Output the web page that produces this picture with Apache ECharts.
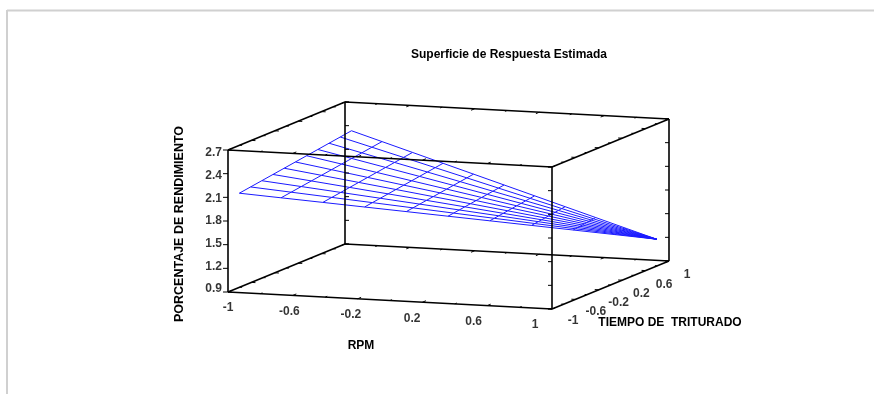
<!DOCTYPE html>
<html>
<head>
<meta charset="utf-8">
<script src="https://cdn.jsdelivr.net/npm/echarts@6/dist/echarts.min.js"></script>
<style>
html,body{margin:0;padding:0;background:#fff;}
#chart{width:874px;height:394px;}
</style>
</head>
<body>
<div id="chart"></div>
<script>
// ---- axis ranges and tick labels ----
const rpmRange = [-1, 1];
const tiempoRange = [-1, 1];
const rendRange = [0.9, 2.7];
const rpmTicks = [-1, -0.6, -0.2, 0.2, 0.6, 1];
const tiempoTicks = [-1, -0.6, -0.2, 0.2, 0.6, 1];
const rendTicks = [0.9, 1.2, 1.5, 1.8, 2.1, 2.4, 2.7];

// ---- estimated response surface: corner points (RPM, TIEMPO, % rendimiento) ----
// order: front-left, back-left, front-right, back-right
const surfRpm = [-0.93, -0.96, 1.0, 1.0];
const surfTiempo = [-1.0, 1.0, 0.79, 0.79];
const surfRend = [2.16, 2.34, 1.24, 1.24];
const meshSteps = 10;

const titleText = 'Superficie de Respuesta Estimada';
const rpmName = 'RPM';
const tiempoName = 'TIEMPO DE  TRITURADO';
const rendName = 'PORCENTAJE DE RENDIMIENTO';

// ---- orthographic view of the 3D box (screen units) ----
const view = {ox: 228, oy: 292, rx: 162, ry: 8.5, tx: 58.5, ty: -24, zy: -142 / (rendRange[1] - rendRange[0])};
function project(r, t, z) {
  return [
    view.ox + view.rx * (r - rpmRange[0]) + view.tx * (t - tiempoRange[0]),
    view.oy + view.ry * (r - rpmRange[0]) + view.ty * (t - tiempoRange[0]) + view.zy * (z - rendRange[0])
  ];
}

// ---- mesh of the surface ----
function corner(k) { return [surfRpm[k], surfTiempo[k], surfRend[k]]; }
function node(i, j) {
  const u = i / meshSteps, v = j / meshSteps;
  const a = corner(0), b = corner(1), c = corner(2), d = corner(3);
  const p = [0, 1, 2].map(m => (1 - u) * ((1 - v) * a[m] + v * b[m]) + u * ((1 - v) * c[m] + v * d[m]));
  return project(p[0], p[1], p[2]);
}
const meshLines = [];
for (let j = 0; j <= meshSteps; j++) {
  const pts = [];
  for (let i = 0; i <= meshSteps; i++) pts.push(node(i, j));
  meshLines.push({coords: pts});
}
for (let i = 0; i <= meshSteps; i++) {
  const pts = [];
  for (let j = 0; j <= meshSteps; j++) pts.push(node(i, j));
  meshLines.push({coords: pts});
}

// ---- box edges ----
const boxLines = [];
const R = rpmRange, T = tiempoRange, Z = rendRange;
for (const t of T) for (const z of Z) boxLines.push({coords: [project(R[0], t, z), project(R[1], t, z)]});
for (const r of R) for (const z of Z) boxLines.push({coords: [project(r, T[0], z), project(r, T[1], z)]});
for (const r of R) for (const t of T) boxLines.push({coords: [project(r, t, Z[0]), project(r, t, Z[1])]});

// ---- ticks ----
const tickLines = [];
function addTick(p, dx, dy) { tickLines.push({coords: [p, [p[0] + dx, p[1] + dy]]}); }
for (const z of rendTicks) {
  addTick(project(R[0], T[0], z), -5, 0);
  addTick(project(R[0], T[1], z), 4, 0);
  addTick(project(R[1], T[0], z), -4, 0);
  addTick(project(R[1], T[1], z), -4, 0);
}
const minorRpm = [-0.8, -0.4, 0, 0.4, 0.8];
for (const r of rpmTicks.concat(minorRpm)) {
  const len = rpmTicks.includes(r) ? 0.06 : 0.035;
  for (const z of Z) {
    const p = project(r, T[0], z), q = project(r, T[0] + len, z);
    addTick(p, q[0] - p[0], q[1] - p[1]);
    const p2 = project(r, T[1], z), q2 = project(r, T[1] - len, z);
    addTick(p2, q2[0] - p2[0], q2[1] - p2[1]);
  }
}
for (const t of tiempoTicks.concat(minorRpm)) {
  const len = tiempoTicks.includes(t) ? 0.025 : 0.015;
  for (const z of Z) {
    const p = project(R[0], t, z), q = project(R[0] + len, t, z);
    addTick(p, q[0] - p[0], q[1] - p[1]);
    const p2 = project(R[1], t, z), q2 = project(R[1] - len, t, z);
    addTick(p2, q2[0] - p2[0], q2[1] - p2[1]);
  }
}

// ---- tick label positions ----
const rpmLabelData = rpmTicks.map(r => {
  const p = project(r, T[0], Z[0]);
  return {name: String(r), value: [p[0] - 8.5 * (r - R[0]), p[1] + 16]};
});
const tiempoLabelData = tiempoTicks.map(t => {
  const p = project(R[1], t, Z[0]);
  return {name: String(t), value: [p[0] + 21 - 1.5 * (t - T[0]), p[1] + 12 + (t - T[0])]};
});
const rendLabelData = rendTicks.map(z => {
  const p = project(R[0], T[0], z);
  return {name: z.toFixed(1), value: [p[0] - 6, p[1] - 3 + 6 * (z - Z[0]) / (Z[1] - Z[0])]};
});

const FONT = "'Liberation Sans', Arial, sans-serif";
const tickLabelStyle = {show: true, position: 'inside', formatter: '{b}', color: '#000',
  fontFamily: FONT, fontSize: 12, fontWeight: 'bold', align: 'center', verticalAlign: 'middle'};

const chart = echarts.init(document.getElementById('chart'), null, {renderer: 'canvas'});
chart.setOption({
  animation: false,
  backgroundColor: '#fff',
  grid: {left: 0, right: 0, top: 0, bottom: 0},
  xAxis: {type: 'value', min: 0, max: 874, show: false},
  yAxis: {type: 'value', min: 0, max: 394, inverse: true, show: false},
  graphic: [
    {type: 'line', shape: {x1: 7, y1: 10.5, x2: 874, y2: 10.5}, style: {stroke: '#d0d0d0', lineWidth: 2}},
    {type: 'line', shape: {x1: 7, y1: 10, x2: 7, y2: 394}, style: {stroke: '#d0d0d0', lineWidth: 2}},
    {type: 'text', x: 509, y: 55, style: {text: titleText, font: 'bold 12px ' + FONT, fill: '#000', textAlign: 'center', textVerticalAlign: 'middle'}},
    {type: 'text', x: 361, y: 346, style: {text: rpmName, font: 'bold 12px ' + FONT, fill: '#000', textAlign: 'center', textVerticalAlign: 'middle'}},
    {type: 'text', x: 670, y: 323, style: {text: tiempoName, font: 'bold 12px ' + FONT, fill: '#000', textAlign: 'center', textVerticalAlign: 'middle'}},
    {type: 'text', x: 180, y: 224, rotation: Math.PI / 2, style: {text: rendName, font: 'bold 12.5px ' + FONT, fill: '#000', textAlign: 'center', textVerticalAlign: 'middle'}}
  ],
  series: [
    {type: 'lines', coordinateSystem: 'cartesian2d', polyline: true, silent: true, z: 2,
      lineStyle: {color: '#1a1aff', width: 1, opacity: 1}, data: meshLines},
    {type: 'lines', coordinateSystem: 'cartesian2d', polyline: true, silent: true, z: 3,
      lineStyle: {color: '#000', width: 1.6, opacity: 1}, data: boxLines},
    {type: 'lines', coordinateSystem: 'cartesian2d', polyline: true, silent: true, z: 3,
      lineStyle: {color: '#000', width: 1, opacity: 1}, data: tickLines},
    {type: 'scatter', symbolSize: 0, silent: true, data: rpmLabelData, label: tickLabelStyle},
    {type: 'scatter', symbolSize: 0, silent: true, data: tiempoLabelData, label: tickLabelStyle},
    {type: 'scatter', symbolSize: 0, silent: true, data: rendLabelData, label: Object.assign({}, tickLabelStyle, {align: 'right'})}
  ]
});
</script>
</body>
</html>
